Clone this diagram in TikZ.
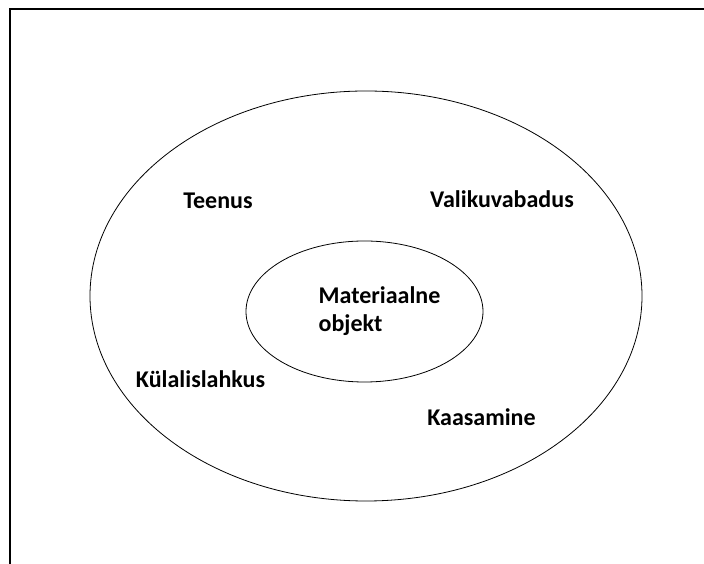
\documentclass[tikz,border=0pt]{standalone}
\usepackage{fontspec}
\setmainfont{Carlito}
\usetikzlibrary{shapes.geometric}
\tikzset{
  ring/.style={draw,ellipse,line width=0.8pt,inner sep=0pt},
  lbl/.style={font=\bfseries\fontsize{24}{28}\selectfont,inner sep=0pt}
}

\begin{document}
\begin{tikzpicture}[x=1pt,y=1pt]
        \useasboundingbox (0,0) rectangle (704,564);
        % frame (only top and left edges show)
        \draw[line width=2pt] (10,0)--(10,555)--(704,555);
        \node[ring,minimum width=552pt,minimum height=410pt] (outer) at (366,268) {};
        \node[ring,minimum width=237pt,minimum height=141pt] (inner) at (364.5,252.5) {};
        \node[lbl,align=left] (obj) at (379.5,253) {Materiaalne\\objekt};
        \node[lbl] (teenus) at (218,363) {Teenus};
        \node[lbl] (valik) at (502,365) {Valikuvabadus};
        \node[lbl] (kulal) at (200.5,185) {Külalislahkus};
        \node[lbl] (kaas) at (481.5,147) {Kaasamine};
      \end{tikzpicture}
\end{document}
